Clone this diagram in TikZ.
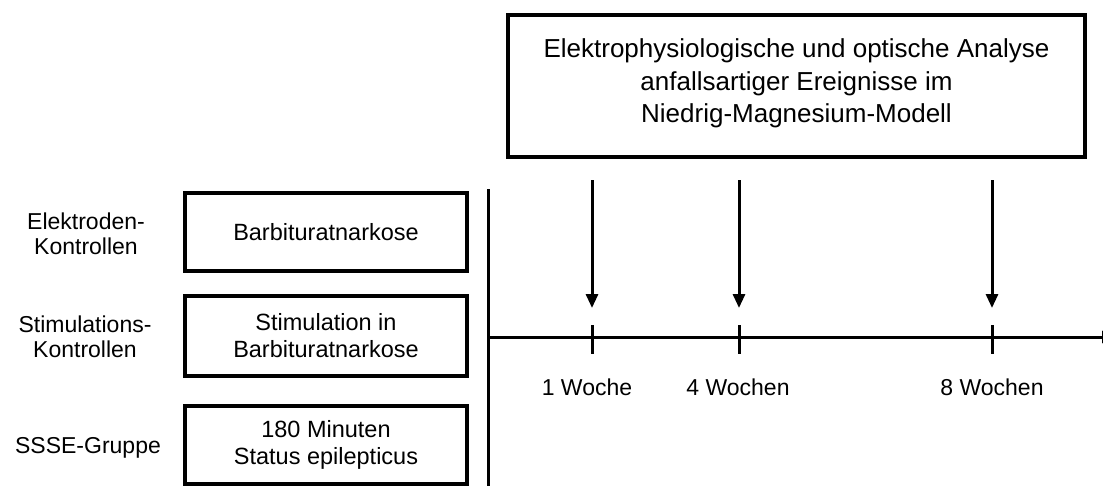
\documentclass[tikz,border=0pt]{standalone}
\usepackage{fontspec}
\setmainfont{Liberation Sans}
\usetikzlibrary{arrows.meta}
\begin{document}
\begin{tikzpicture}[x=1pt,y=-1pt,
  box/.style={draw, line width=3.6pt, inner sep=0pt, align=center,
    font=\fontsize{23.5}{27}\selectfont},
  lbl/.style={align=center, inner sep=0pt, font=\fontsize{23}{25.5}\selectfont},
  topbox/.style={draw, line width=3.6pt, inner sep=0pt, align=center,
    font=\fontsize{26}{32.5}\selectfont},
  axisline/.style={line width=3pt},
  down/.style={line width=3pt, -{Triangle[width=12pt,length=14pt]}},
  tick/.style={line width=3pt}
]
\clip (0,0) rectangle (1103,485);
\fill[white] (0,0) rectangle (1103,485);

% top box
\node[topbox, minimum width=577pt, minimum height=142pt, text depth=10pt] (top) at (796.5,86)
  {Elektrophysiologische und optische Analyse\\anfallsartiger Ereignisse im\\Niedrig-Magnesium-Modell};

% left boxes
\node[box, minimum width=282pt, minimum height=78pt] (b1) at (326,232) {Barbituratnarkose};
\node[box, minimum width=282pt, minimum height=80pt] (b2) at (326,336) {Stimulation in\\Barbituratnarkose};
\node[box, minimum width=282pt, minimum height=78pt] (b3) at (326,445) {180 Minuten\\Status epilepticus};

% left labels
\node[lbl] (l1) at (86,234) {Elektroden-\\Kontrollen};
\node[lbl] (l2) at (85,337) {Stimulations-\\Kontrollen};
\node[lbl] (l3) at (88,448) {SSSE-Gruppe};

% vertical separator
\coordinate (vs) at (488,189);
\coordinate (ve) at (488,490);
\draw[axisline] (vs) -- (ve);

% time axis
\coordinate (as) at (488,337);
\coordinate (ae) at (1116,337);
\draw[axisline, -{Triangle[width=12pt,length=14pt]}] (as) -- (ae);

% ticks and arrows
\foreach \n/\x in {t1/592, t2/739, t3/992}{
  \coordinate (\n top) at (\x,325);
  \coordinate (\n bot) at (\x,354);
  \draw[tick] (\n top) -- (\n bot);
  \coordinate (\n s) at (\x,180);
  \coordinate (\n e) at (\x,308);
  \draw[down] (\n s) -- (\n e);
}

% week labels
\node[lbl] (w1) at (587,387) {1 Woche};
\node[lbl] (w2) at (738,387) {4 Wochen};
\node[lbl] (w3) at (992,387) {8 Wochen};
\end{tikzpicture}
\end{document}
